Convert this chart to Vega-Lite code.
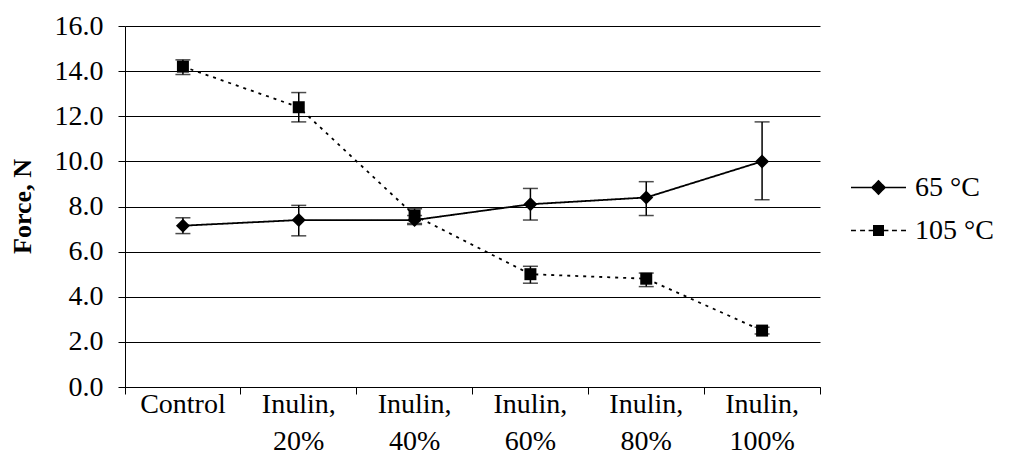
{
  "$schema": "https://vega.github.io/schema/vega-lite/v6.json",
  "autosize": {"type": "none"},
  "width": 695,
  "height": 361,
  "padding": {"left": 125, "top": 26, "right": 204, "bottom": 88},
  "background": "white",
  "config": {
    "view": {"stroke": null},
    "font": "Liberation Serif"
  },
  "data": {
    "values": [
      {"cat": "Control", "series": "65 °C", "force": 7.15, "lo": 6.8, "hi": 7.5},
      {"cat": "Inulin, 20%", "series": "65 °C", "force": 7.4, "lo": 6.7, "hi": 8.05},
      {"cat": "Inulin, 40%", "series": "65 °C", "force": 7.4, "lo": 7.2, "hi": 7.6},
      {"cat": "Inulin, 60%", "series": "65 °C", "force": 8.1, "lo": 7.4, "hi": 8.8},
      {"cat": "Inulin, 80%", "series": "65 °C", "force": 8.4, "lo": 7.6, "hi": 9.1},
      {"cat": "Inulin, 100%", "series": "65 °C", "force": 10.0, "lo": 8.3, "hi": 11.75},
      {"cat": "Control", "series": "105 °C", "force": 14.2, "lo": 13.85, "hi": 14.5},
      {"cat": "Inulin, 20%", "series": "105 °C", "force": 12.4, "lo": 11.75, "hi": 13.05},
      {"cat": "Inulin, 40%", "series": "105 °C", "force": 7.6, "lo": 7.25, "hi": 7.9},
      {"cat": "Inulin, 60%", "series": "105 °C", "force": 5.0, "lo": 4.6, "hi": 5.35},
      {"cat": "Inulin, 80%", "series": "105 °C", "force": 4.8, "lo": 4.45, "hi": 5.05},
      {"cat": "Inulin, 100%", "series": "105 °C", "force": 2.5, "lo": 2.35, "hi": 2.65}
    ]
  },
  "encoding": {
    "x": {
      "field": "cat",
      "type": "nominal",
      "sort": null,
      "scale": {"paddingInner": 0, "paddingOuter": 0},
      "axis": {
        "title": null,
        "labelAngle": 0,
        "labelFont": "Liberation Serif",
        "labelFontSize": 28,
        "labelColor": "black",
        "labelLineHeight": 37,
        "labelPadding": -4,
        "labelExpr": "datum.label == 'Control' ? 'Control' : [slice(datum.label, 0, 7), slice(datum.label, 8)]",
        "bandPosition": 1,
        "tickExtra": true,
        "tickSize": 7,
        "tickColor": "black",
        "domainColor": "black",
        "grid": false
      }
    }
  },
  "layer": [
    {
      "mark": {"type": "rule", "color": "black", "strokeWidth": 1.5},
      "encoding": {
        "y": {"field": "lo", "type": "quantitative"},
        "y2": {"field": "hi"}
      }
    },
    {
      "mark": {"type": "tick", "orient": "horizontal", "color": "black", "size": 15, "thickness": 1.5},
      "encoding": {"y": {"field": "lo", "type": "quantitative"}}
    },
    {
      "mark": {"type": "tick", "orient": "horizontal", "color": "black", "size": 15, "thickness": 1.5},
      "encoding": {"y": {"field": "hi", "type": "quantitative"}}
    },
    {
      "mark": {"type": "line", "color": "black", "strokeWidth": 1.8},
      "encoding": {
        "y": {
          "field": "force",
          "type": "quantitative",
          "scale": {"domain": [0, 16]},
          "axis": {
            "title": "Force, N",
            "titleFont": "Liberation Serif",
            "titleFontSize": 26,
            "titleFontWeight": "bold",
            "titleColor": "black",
            "titleX": -103,
            "titleY": 180,
            "titleAngle": -90,
            "titleAlign": "center",
            "titleBaseline": "middle",
            "values": [0, 2, 4, 6, 8, 10, 12, 14, 16],
            "format": ".1f",
            "labelFont": "Liberation Serif",
            "labelFontSize": 28,
            "labelColor": "black",
            "labelPadding": 15,
            "tickSize": 7,
            "tickColor": "black",
            "domainColor": "black",
            "grid": true,
            "gridColor": "black",
            "gridOpacity": 1,
            "gridWidth": 1
          }
        },
        "strokeDash": {
          "field": "series",
          "type": "nominal",
          "sort": ["65 °C", "105 °C"],
          "scale": {"domain": ["65 °C", "105 °C"], "range": [[1, 0], [3, 5]]},
          "legend": {
            "title": null,
            "orient": "none",
            "legendX": 725,
            "legendY": 133,
            "padding": 0,
            "symbolSize": 3025,
            "symbolStrokeWidth": 1.5,
            "symbolStrokeColor": "black",
            "symbolFillColor": "black",
            "labelFont": "Liberation Serif",
            "labelFontSize": 28,
            "labelColor": "black",
            "labelOffset": 8,
            "rowPadding": -11,
            "encode": {
              "symbols": {
                "update": {
                  "shape": {"signal": "datum.value == '65 °C' ? 'M-1,0H1M0,-0.24L0.24,0L0,0.24L-0.24,0Z' : 'M-1,-0.025H-0.82V0.025H-1ZM-0.67,-0.025H-0.49V0.025H-0.67ZM-0.36,-0.025H-0.2V0.025H-0.36ZM-0.2,-0.2H0.2V0.2H-0.2ZM0.2,-0.025H0.36V0.025H0.2ZM0.49,-0.025H0.67V0.025H0.49ZM0.82,-0.025H1V0.025H0.82Z'"},
                  "fill": {"value": "black"},
                  "fillOpacity": {"value": 1},
                  "stroke": {"signal": "datum.value == '65 °C' ? 'black' : null"},
                  "strokeDash": {"value": [1, 0]},
                  "strokeWidth": {"value": 1.5}
                }
              }
            }
          }
        }
      }
    },
    {
      "transform": [{"filter": "datum.series == '65 °C'"}],
      "mark": {"type": "point", "shape": "diamond", "size": 196, "filled": true, "color": "black", "opacity": 1},
      "encoding": {"y": {"field": "force", "type": "quantitative"}}
    },
    {
      "transform": [{"filter": "datum.series == '105 °C'"}],
      "mark": {"type": "point", "shape": "square", "size": 144, "filled": true, "color": "black", "opacity": 1},
      "encoding": {"y": {"field": "force", "type": "quantitative"}}
    }
  ]
}
